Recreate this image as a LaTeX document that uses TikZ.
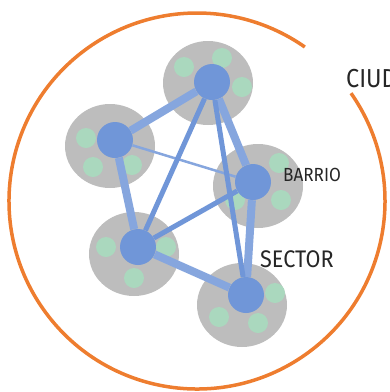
\documentclass[tikz,border=0pt]{standalone}
\usepackage{fontspec}
\setmainfont{Fira Sans}
\newfontfamily\rotulo[FakeStretch=0.9]{Fira Sans}
\usepackage{tikz}
\usetikzlibrary{shapes.geometric}
\definecolor{ciudad}{HTML}{EE7D2F}
\definecolor{sectorgray}{HTML}{BDBDBD}
\definecolor{casa}{HTML}{AAD8BE}
\definecolor{red}{HTML}{7096D8}
\definecolor{redsoft}{HTML}{86A6DE}
\begin{document}
\begin{tikzpicture}[x=1pt, y=-1pt,
sector/.style={ellipse, fill=sectorgray, minimum width=90pt, minimum height=84pt, inner sep=0pt},
casa/.style={circle, fill=casa, minimum size=20pt, inner sep=0pt},
hub/.style={circle, fill=red, minimum size=36pt, inner sep=0pt},
fuerte/.style={red, line width=5pt},
suave/.style={redsoft, line width=8pt},
fino/.style={redsoft, line width=2.5pt},
etiqueta/.style={text=black!85, inner sep=0pt}
]
\useasboundingbox (0,0) rectangle (390,392);
%City
\coordinate (c) at (197,201);
\draw[ciudad, line width=3.5pt] (c) ++(-35:188) arc[start angle=-35, end angle=305, radius=188];
%Sectors
\node[sector] (s1) at (208,83)  {};
\node[sector] (s2) at (110,146) {};
\node[sector] (s3) at (258,186) {};
\node[sector] (s4) at (134,254) {};
\node[sector] (s5) at (242,305) {};
%Houses
\foreach \x/\y [count=\i] in {184/67, 222/58, 242/87, 86/138, 93/167, 132/165,
  279/163, 281/200, 235/200, 106/247, 166/247, 134/278, 275/293, 219/317, 258/323}
  \node[casa] (h\i) at (\x,\y) {};
%Hubs
\node[hub] (b1) at (212,82)  {};
\node[hub] (b2) at (115,140) {};
\node[hub] (b3) at (253,182) {};
\node[hub] (b4) at (138,247) {};
\node[hub] (b5) at (246,295) {};
%Lines
\draw[suave]  (b1) -- (b2);
\draw[suave]  (b1) -- (b3);
\draw[suave]  (b2) -- (b4);
\draw[suave]  (b4) -- (b5);
\draw[suave]  (b3) -- (b5);
\draw[fino]   (b2) -- (b3);
\draw[fuerte] (b1) -- (b4);
\draw[fuerte] (b1) -- (b5);
\draw[fuerte] (b4) -- (b3);
%Labels
\node[etiqueta, anchor=west, font=\rotulo\fontsize{19}{22}\selectfont] (lbarrio) at (283,175) {BARRIO};
\node[etiqueta, anchor=west, font=\rotulo\fontsize{24}{28}\selectfont] (lsector) at (260,259) {SECTOR};
\node[etiqueta, anchor=west, font=\rotulo\fontsize{26}{30}\selectfont] (lciudad) at (346,79) {CIUDAD};
\end{tikzpicture}
\end{document}
